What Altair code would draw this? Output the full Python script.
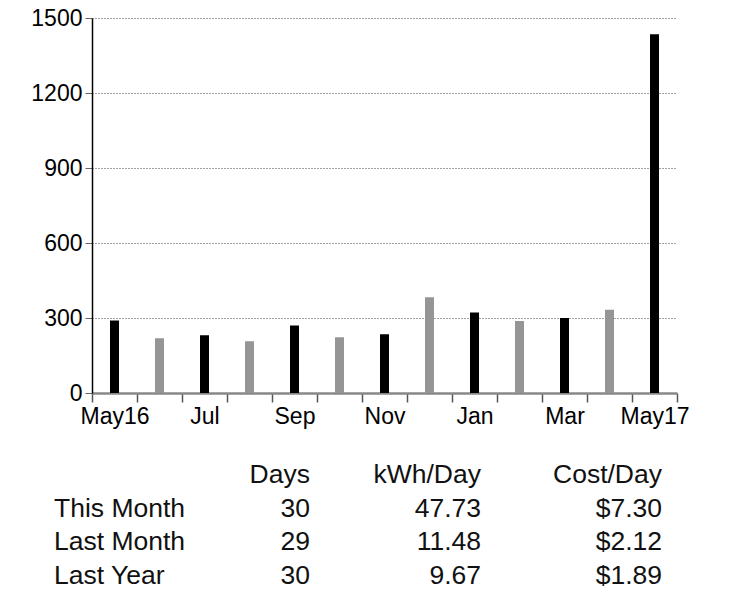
import altair as alt
import pandas as pd

# ---- data ----
months = ["May16", "Jun", "Jul", "Aug", "Sep", "Oct", "Nov", "Dec",
          "Jan", "Feb", "Mar", "Apr", "May17"]
kwh = [290, 219, 231, 207, 270, 223, 235, 383, 322, 288, 300, 333, 1435]
shown_labels = ["May16", "Jul", "Sep", "Nov", "Jan", "Mar", "May17"]
y_ticks = [0, 300, 600, 900, 1200, 1500]

table_header = ["", "Days", "kWh/Day", "Cost/Day"]
row_names = ["This Month", "Last Month", "Last Year"]
days = ["30", "29", "30"]
kwh_day = ["47.73", "11.48", "9.67"]
cost_day = ["$7.30", "$2.12", "$1.89"]

FONT = "Liberation Sans"

bars_df = pd.DataFrame({
    "month": months,
    "kwh": kwh,
    "shade": ["a" if i % 2 == 0 else "b" for i in range(len(months))],
})

label_list = "[" + ",".join("'" + m + "'" for m in shown_labels) + "]"

bars = alt.Chart(bars_df).mark_bar(width=9).encode(
    x=alt.X("month:N", sort=months,
            scale=alt.Scale(paddingInner=0, paddingOuter=0),
            axis=alt.Axis(title=None, labelAngle=0, tickBand="extent",
                          labelExpr="indexof(" + label_list + ", datum.value) >= 0 ? datum.value : ''",
                          labelFont=FONT, labelFontSize=23, labelColor="black",
                          labelPadding=3, tickSize=9, tickColor="#555",
                          tickWidth=1.5, domainColor="#888", domainWidth=2.5,
                          grid=False)),
    y=alt.Y("kwh:Q", scale=alt.Scale(domain=[0, 1500], nice=False),
            axis=alt.Axis(title=None, values=y_ticks, format="d", labelFont=FONT,
                          labelFontSize=23, labelColor="black", labelPadding=3,
                          tickSize=7, tickColor="#666", domainColor="black",
                          domainWidth=1.5, grid=True, gridColor="#444",
                          gridDash=[1, 2], gridWidth=1)),
    color=alt.Color("shade:N", scale=alt.Scale(domain=["a", "b"], range=["#000000", "#959595"]),
                    legend=None),
)

# ---- table below the chart ----
rows = []
for i, name in enumerate(row_names):
    rows.append({"row": i + 1, "col": "name", "text": name})
    rows.append({"row": i + 1, "col": "days", "text": days[i]})
    rows.append({"row": i + 1, "col": "kwh", "text": kwh_day[i]})
    rows.append({"row": i + 1, "col": "cost", "text": cost_day[i]})
for col, h in zip(["name", "days", "kwh", "cost"], table_header):
    if h:
        rows.append({"row": 0, "col": col, "text": h})
table_df = pd.DataFrame(rows)

row_y = alt.Y("row:Q", scale=alt.Scale(domain=[0, 3], range=[465, 566]), axis=None)

col_pos = {"name": (-38, "left"), "days": (218, "right"),
           "kwh": (389, "right"), "cost": (570, "right")}

table_layers = []
for col, (xp, al) in col_pos.items():
    table_layers.append(
        alt.Chart(table_df).transform_filter(alt.datum.col == col)
        .mark_text(font=FONT, fontSize=26.5, align=al, baseline="alphabetic",
                   color="#111")
        .encode(x=alt.value(xp), y=row_y, text="text:N")
    )

chart = alt.layer(bars, *table_layers).resolve_scale(y="independent").properties(
    width=585, height=375,
    autosize=alt.AutoSizeParams(type="none"),
    padding={"left": 84, "top": 10, "right": 30, "bottom": 200},
).configure_view(stroke=None)

chart.save("out.html", embed_options={"renderer": "svg", "actions": False})
